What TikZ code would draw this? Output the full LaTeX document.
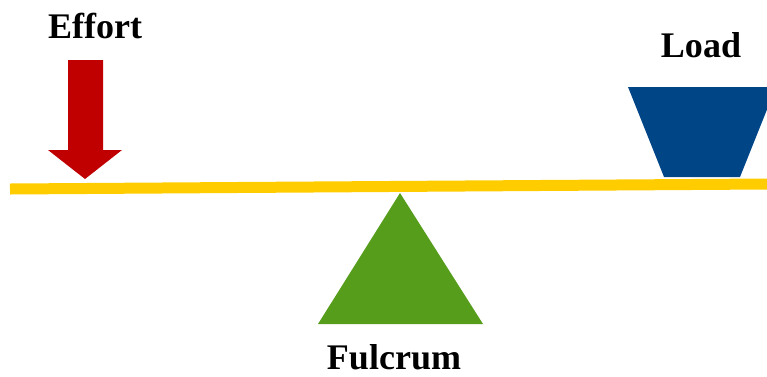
\documentclass[tikz,border=0pt]{standalone}
\usepackage{fontspec}
\setmainfont{Liberation Serif}
\usepackage{xcolor}
\usepackage{tikz}
\usetikzlibrary{positioning}
\definecolor{effortred}{RGB}{192, 0, 0}
\definecolor{loadblue}{RGB}{0, 70, 135}
\definecolor{beamyellow}{RGB}{255, 204, 0}
\definecolor{fulcrumgreen}{RGB}{87, 157, 28}

\begin{document}
\begin{tikzpicture}[x=0.02cm, y=-0.02cm,
        label/.style={font=\fontsize{20.5}{24}\selectfont\bfseries, inner sep=0pt, anchor=base},
        beam/.style={draw=beamyellow, line width=0.22cm}
    ]
        \useasboundingbox (0,0) rectangle (767,376);
        \clip (0,0) rectangle (767,376);

        \node[label] (effort) at (95, 38) {Effort};
        \node[label] (load) at (701, 57) {Load};
        \node[label] (fulcrum) at (394, 369) {Fulcrum};

        \draw[beam] (10, 189) -- (767, 184);

        \fill[effortred] (68,60) -- (103,60) -- (103,150) -- (122,150) -- (85,179) -- (48,150) -- (68,150) -- cycle;
        \fill[loadblue] (628,87) -- (776,87) -- (740,177) -- (664,177) -- cycle;
        \fill[fulcrumgreen] (400,193) -- (483,324) -- (318,324) -- cycle;
    \end{tikzpicture}
\end{document}
